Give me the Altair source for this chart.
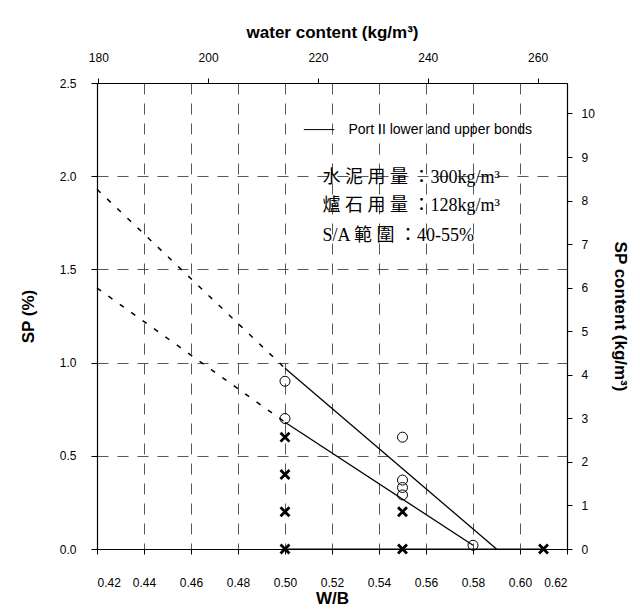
import altair as alt
import pandas as pd

# W/B axis range and binder content (cement 300 + slag 128 kg/m3)
wb_domain = [0.42, 0.62]
sp_domain = [0.0, 2.5]
binder = 428.0

# measured mixes: open circles
circle_wb = [0.50, 0.50, 0.55, 0.55, 0.55, 0.55, 0.58]
circle_sp = [0.90, 0.70, 0.60, 0.37, 0.33, 0.29, 0.02]

# measured mixes: crosses
cross_wb = [0.50, 0.50, 0.50, 0.50, 0.55, 0.55, 0.61]
cross_sp = [0.60, 0.40, 0.20, 0.00, 0.20, 0.00, 0.00]

# upper and lower bounds (solid) and their extensions (dashed)
upper_wb = [0.50, 0.59]
upper_sp = [0.97, 0.00]
lower_wb = [0.50, 0.58]
lower_sp = [0.68, 0.02]
upper_ext_wb = [0.42, 0.50]
upper_ext_sp = [1.93, 0.97]
lower_ext_wb = [0.42, 0.50]
lower_ext_sp = [1.40, 0.68]

# crosses at zero SP joined by a line
zero_wb = [0.50, 0.55, 0.61]
zero_sp = [0.0, 0.0, 0.0]

wb_ticks = [0.42, 0.44, 0.46, 0.48, 0.50, 0.52, 0.54, 0.56, 0.58, 0.60, 0.62]
sp_ticks = [0.0, 0.5, 1.0, 1.5, 2.0, 2.5]
water_ticks = [180, 200, 220, 240, 260]
spc_ticks = [0, 1, 2, 3, 4, 5, 6, 7, 8, 9, 10]

legend_label = "Port II lower and upper bonds"
legend_line_wb = [0.508, 0.521]
legend_y = 2.25
legend_text_wb = 0.527

note_lines = ["水 泥 用 量 ：300kg/m³", "爐 石 用 量 ：128kg/m³", "S/A 範 圍 ：40-55%"]
note_wb = [0.516, 0.516, 0.516]
note_sp = [1.99, 1.84, 1.68]

SANS = "Liberation Sans"

x_axis = alt.Axis(
    title="W/B", values=wb_ticks, format=".2f", orient="bottom",
    grid=True, gridDash=[11, 9], gridColor="#444444", gridWidth=0.9,
    tickSize=5, labelPadding=23, titlePadding=2,
)
y_axis = alt.Axis(
    title="SP (%)", values=sp_ticks, format=".1f", orient="left",
    grid=True, gridDash=[11, 9], gridColor="#444444", gridWidth=0.9,
    tickSize=6, labelPadding=15, titlePadding=22,
)
x_scale = alt.Scale(domain=wb_domain, nice=False, zero=False)
y_scale = alt.Scale(domain=sp_domain, nice=False, zero=False)


def xy(xf="wb", yf="sp"):
    return dict(
        x=alt.X(f"{xf}:Q", scale=x_scale, axis=x_axis),
        y=alt.Y(f"{yf}:Q", scale=y_scale, axis=y_axis),
    )


def line_df(xs, ys):
    return pd.DataFrame({"wb": xs, "sp": ys})


upper = alt.Chart(line_df(upper_wb, upper_sp)).mark_line(color="black", strokeWidth=1.3).encode(**xy())
lower = alt.Chart(line_df(lower_wb, lower_sp)).mark_line(color="black", strokeWidth=1.3).encode(**xy())
upper_ext = alt.Chart(line_df(upper_ext_wb, upper_ext_sp)).mark_line(
    color="black", strokeWidth=1.5, strokeDash=[5, 9]).encode(**xy())
lower_ext = alt.Chart(line_df(lower_ext_wb, lower_ext_sp)).mark_line(
    color="black", strokeWidth=1.5, strokeDash=[5, 9]).encode(**xy())
zero_line = alt.Chart(line_df(zero_wb, zero_sp)).mark_line(color="black", strokeWidth=1.2).encode(**xy())

circles = alt.Chart(line_df(circle_wb, circle_sp)).mark_point(
    shape="circle", filled=False, color="black", opacity=1, size=100, strokeWidth=1).encode(**xy())
crosses = alt.Chart(line_df(cross_wb, cross_sp)).mark_point(
    shape="M-1,-1L1,1M-1,1L1,-1", filled=False, color="black", opacity=1, size=80, strokeWidth=2.8
).encode(**xy())

legend_line = alt.Chart(line_df(legend_line_wb, [legend_y, legend_y])).mark_line(
    color="black", strokeWidth=1).encode(**xy())
legend_text = alt.Chart(pd.DataFrame({"wb": [legend_text_wb], "sp": [legend_y], "t": [legend_label]})).mark_text(
    align="left", baseline="middle", font="Liberation Sans Narrow, Liberation Sans", fontSize=14, color="black"
).encode(text="t:N", **xy())
notes = alt.Chart(pd.DataFrame({"wb": note_wb, "sp": note_sp, "t": note_lines})).mark_text(
    align="left", baseline="middle", font="Liberation Serif, Noto Sans CJK TC", fontSize=18, color="black"
).encode(text="t:N", **xy())

main = alt.layer(upper_ext, lower_ext, upper, lower, zero_line, circles, crosses,
                 legend_line, legend_text, notes)

# secondary axes: water content (top) and SP content (right)
water_domain = [wb_domain[0] * binder, wb_domain[1] * binder]
spc_domain = [sp_domain[0] * binder / 100, sp_domain[1] * binder / 100]
secondary = alt.Chart(pd.DataFrame({"water": water_domain, "spc": spc_domain})).mark_point(opacity=0).encode(
    x=alt.X("water:Q", scale=alt.Scale(domain=water_domain, nice=False, zero=False),
            axis=alt.Axis(title="water content (kg/m³)", orient="top", values=water_ticks, grid=False,
                          tickSize=5, labelPadding=14, titlePadding=10)),
    y=alt.Y("spc:Q", scale=alt.Scale(domain=spc_domain, nice=False, zero=False),
            axis=alt.Axis(title="SP content (kg/m³)", orient="right", values=spc_ticks, grid=False,
                          tickSize=5, labelPadding=9, titlePadding=16)),
)

chart = alt.layer(main, secondary).resolve_scale(x="independent", y="independent").properties(
    width=470, height=466,
    autosize=alt.AutoSizeParams(type="none"),
    padding={"left": 97, "top": 83, "right": 73, "bottom": 62},
    background="white",
).configure_view(strokeWidth=0).configure_axis(
    labelFont=SANS, labelFontSize=12, labelColor="black",
    titleFont=SANS, titleFontSize=17, titleFontWeight="bold", titleColor="black",
    domainColor="black", domainWidth=1.2, tickColor="black", tickWidth=1,
)

chart.save("out.html", embed_options={"renderer": "svg", "actions": False})
